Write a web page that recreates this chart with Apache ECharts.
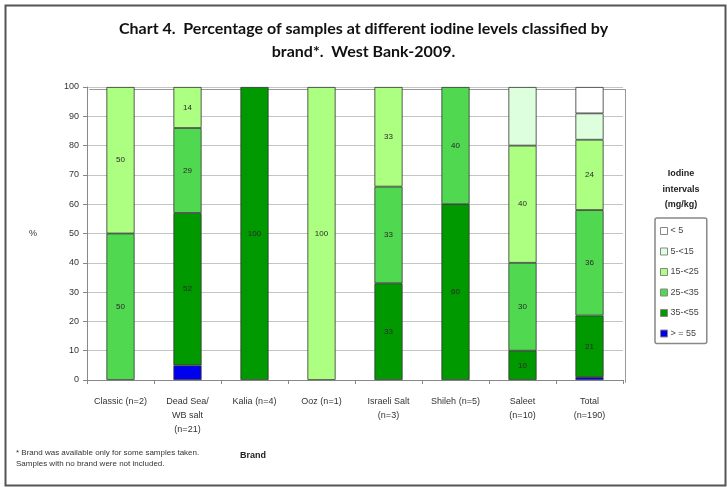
<!DOCTYPE html>
<html><head><meta charset="utf-8">
<script src="https://cdn.jsdelivr.net/npm/echarts@6/dist/echarts.min.js"></script>
<style>html,body{margin:0;padding:0;background:#fff}#c{width:727px;height:487px}</style>
</head><body><div id="c"></div>
<script>
const categories = ["Classic (n=2)", "Dead Sea/\nWB salt\n(n=21)", "Kalia (n=4)", "Ooz (n=1)", "Israeli Salt\n(n=3)", "Shileh (n=5)", "Saleet\n(n=10)", "Total\n(n=190)"];
const seriesNames = ["> = 55", "35-<55", "25-<35", "15-<25", "5-<15", "< 5"];
const s55 = [0, 5, 0, 0, 0, 0, 0, 1];
const s35 = [0, 52, 100, 0, 33, 60, 10, 21];
const s25 = [50, 29, 0, 0, 33, 40, 30, 36];
const s15 = [50, 14, 0, 100, 34, 0, 40, 24];
const s5 = [0, 0, 0, 0, 0, 0, 20, 9];
const s0 = [0, 0, 0, 0, 0, 0, 0, 9];
const yTicks = [0, 10, 20, 30, 40, 50, 60, 70, 80, 90, 100];

const values = [s55, s35, s25, s15, s5, s0];
const colors = ["#0000ee", "#009900", "#50d850", "#acff80", "#ddffdd", "#ffffff"];
const showLabel = [false, true, true, true, false, false];

const chart = echarts.init(document.getElementById('c'));
const series = values.map((v, i) => ({
  name: seriesNames[i],
  type: 'bar',
  stack: 'all',
  barWidth: '42%',
  data: v.map(x => (x > 0 ? x : '-')),
  itemStyle: {color: colors[i], borderColor: '#333', borderWidth: 0.8},
  label: {
    show: showLabel[i], position: 'inside', fontSize: 8, color: '#2a2a2a', fontFamily: 'Liberation Sans',
    formatter: p => (i === 3 && p.dataIndex === 4 ? '33' : String(p.value))
  }
}));

chart.setOption({
  animation: false,
  backgroundColor: '#fff',
  title: {
    text: 'Chart 4.  Percentage of samples at different iodine levels classified by\nbrand*.  West Bank-2009.',
    left: 'center', top: 12,
    textStyle: {fontFamily: 'Lato', fontWeight: 'bold', fontSize: 16, lineHeight: 23, color: '#111'}
  },
  grid: {left: 87, right: 104, top: 87, bottom: 107},
  legend: {
    data: seriesNames.slice().reverse(),
    orient: 'vertical', left: 655, top: 218,
    itemWidth: 7, itemHeight: 7, itemGap: 8.5,
    padding: [7, 8, 4, 5],
    borderColor: '#888', borderWidth: 1.5, borderRadius: 2,
    itemStyle: {borderColor: '#888', borderWidth: 1},
    textStyle: {fontSize: 9, lineHeight: 12, color: '#444', fontFamily: 'Liberation Sans', padding: [0, 0, 0, -2]},
    icon: 'rect'
  },
  xAxis: {
    type: 'category', data: categories,
    axisLine: {lineStyle: {color: '#888'}},
    axisTick: {show: true, length: 4, lineStyle: {color: '#888'}},
    axisLabel: {fontSize: 9, color: '#333', fontFamily: 'Liberation Sans', lineHeight: 14, margin: 15, interval: 0}
  },
  yAxis: {
    type: 'value', min: 0, max: 100, interval: 10,
    axisLine: {show: true, lineStyle: {color: '#888'}},
    axisTick: {show: true, length: 4, lineStyle: {color: '#888'}},
    axisLabel: {fontSize: 9, color: '#333', fontFamily: 'Liberation Sans', margin: 8},
    splitLine: {lineStyle: {color: '#c4c4c4', width: 1}},
    name: '%', nameLocation: 'middle', nameRotate: 0, nameGap: 50,
    nameTextStyle: {fontSize: 9, color: '#333', fontFamily: 'Liberation Sans'}
  },
  graphic: [
    {type: 'rect', left: 3, top: 3, shape: {width: 720, height: 480}, style: {fill: 'none', stroke: '#555', lineWidth: 2}, silent: true},
    {type: 'rect', left: 623, top: 87, shape: {width: 0, height: 293}, style: {fill: 'none', stroke: '#999', lineWidth: 1}, silent: true},
    {type: 'rect', left: 87, top: 87, shape: {width: 536, height: 0}, style: {fill: 'none', stroke: '#999', lineWidth: 1}, silent: true},
    {type: 'text', x: 681, y: 166, style: {text: 'Iodine\nintervals\n(mg/kg)', fontSize: 9, fontWeight: 'bold', fill: '#222', align: 'center', lineHeight: 15.5, fontFamily: 'Liberation Sans'}},
    {type: 'text', x: 253, y: 456, style: {text: 'Brand', fontSize: 9, fontWeight: 'bold', fill: '#222', align: 'center', verticalAlign: 'middle', fontFamily: 'Liberation Sans'}},
    {type: 'text', left: 16, top: 447, style: {text: '* Brand was available only for some samples taken.\nSamples with no brand were not included.', fontSize: 8, fill: '#333', lineHeight: 11.5, fontFamily: 'Liberation Sans'}}
  ],
  series: series
});
</script></body></html>
